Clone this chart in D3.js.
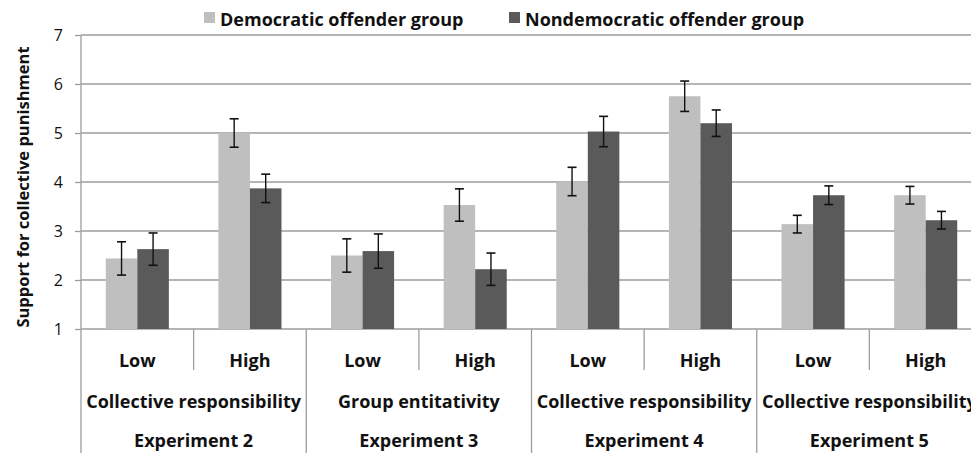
<!DOCTYPE html>
<html>
<head>
<meta charset="utf-8">
<script src="https://cdn.jsdelivr.net/npm/d3@7"></script>
<style>
  html, body { margin: 0; padding: 0; background: #fff; }
  svg { display: block; }
  text { font-family: "Open Sans", Lato, sans-serif; fill: #111; }
</style>
</head>
<body>
<svg id="chart" width="971" height="453"></svg>
<script>
// Level labels on the x axis, one per bar pair
const levels = ["Low", "High", "Low", "High", "Low", "High", "Low", "High"];
// Manipulated factor, one per experiment
const factors = ["Collective responsibility", "Group entitativity", "Collective responsibility", "Collective responsibility"];
const experiments = ["Experiment 2", "Experiment 3", "Experiment 4", "Experiment 5"];
const seriesNames = ["Democratic offender group", "Nondemocratic offender group"];

// Mean support for collective punishment
const democratic    = [2.44, 5.00, 2.50, 3.53, 4.01, 5.75, 3.14, 3.73];
const nondemocratic = [2.63, 3.87, 2.59, 2.22, 5.03, 5.20, 3.73, 3.22];
// Standard errors
const democraticErr    = [0.34, 0.29, 0.34, 0.33, 0.29, 0.31, 0.18, 0.18];
const nondemocraticErr = [0.33, 0.29, 0.35, 0.33, 0.31, 0.27, 0.19, 0.18];

const yTicks = [1, 2, 3, 4, 5, 6, 7];

const colors = ["#bfbfbf", "#5a5a5a"];
const gridColor = "#9d9d9d";

const svg = d3.select("#chart");
const plotLeft = 81, plotRight = 982, plotTop = 35, plotBottom = 329;

const keys = levels.map((d, i) => i);
const x0 = d3.scaleBand().domain(keys).range([plotLeft, plotRight]).paddingInner(0).paddingOuter(0);
const bw = x0.bandwidth();
const barW = bw * 0.28;
const x1 = d3.scaleBand().domain([0, 1]).range([bw / 2 - barW, bw / 2 + barW]).padding(0);
const y = d3.scaleLinear().domain([1, 7]).range([plotBottom, plotTop]);

// Horizontal gridlines
svg.append("g")
  .selectAll("line").data(yTicks).join("line")
  .attr("x1", plotLeft).attr("x2", plotRight)
  .attr("y1", d => y(d)).attr("y2", d => y(d))
  .attr("stroke", gridColor).attr("stroke-width", 1.3);

// Y axis
const yAxis = d3.axisLeft(y).tickValues(yTicks).tickSize(6).tickPadding(12).tickFormat(d3.format("d"));
const ya = svg.append("g").attr("transform", `translate(${plotLeft},0)`).call(yAxis);
ya.select(".domain").remove();
ya.selectAll(".tick line").attr("stroke", gridColor).attr("stroke-width", 1.3);
ya.selectAll(".tick text").attr("font-size", 16).attr("fill", "#111")
  .style("font-family", "'Open Sans', sans-serif");
svg.append("line").attr("x1", plotLeft).attr("x2", plotLeft).attr("y1", plotTop).attr("y2", 453)
  .attr("stroke", gridColor).attr("stroke-width", 1.3);

// Bars
const rows = keys.map(i => [
  { i, s: 0, v: democratic[i], e: democraticErr[i] },
  { i, s: 1, v: nondemocratic[i], e: nondemocraticErr[i] }
]);
const groups = svg.append("g").selectAll("g").data(rows).join("g")
  .attr("transform", d => `translate(${x0(d[0].i)},0)`);
groups.selectAll("rect").data(d => d).join("rect")
  .attr("x", d => x1(d.s)).attr("width", x1.bandwidth())
  .attr("y", d => y(d.v)).attr("height", d => y(1) - y(d.v))
  .attr("fill", d => colors[d.s]);

// Error bars
const cap = 4.5;
const eb = groups.selectAll("g.err").data(d => d).join("g").attr("class", "err")
  .attr("transform", d => `translate(${x1(d.s) + x1.bandwidth() / 2},0)`);
eb.append("line").attr("y1", d => y(d.v + d.e)).attr("y2", d => y(d.v - d.e))
  .attr("stroke", "#111").attr("stroke-width", 1.4);
eb.append("line").attr("x1", -cap).attr("x2", cap).attr("y1", d => y(d.v + d.e)).attr("y2", d => y(d.v + d.e))
  .attr("stroke", "#111").attr("stroke-width", 1.6);
eb.append("line").attr("x1", -cap).attr("x2", cap).attr("y1", d => y(d.v - d.e)).attr("y2", d => y(d.v - d.e))
  .attr("stroke", "#111").attr("stroke-width", 1.6);

// Category separators: short between levels, full height between experiments
const sep = svg.append("g");
keys.slice(1).forEach(i => {
  const full = i % 2 === 0;
  sep.append("line").attr("x1", x0(i)).attr("x2", x0(i))
    .attr("y1", plotBottom).attr("y2", full ? 453 : 370)
    .attr("stroke", gridColor).attr("stroke-width", 1.3);
});

// Level labels
svg.append("g").selectAll("text").data(keys).join("text")
  .attr("x", i => x0(i) + bw / 2).attr("y", 367)
  .attr("text-anchor", "middle").attr("font-size", 18).attr("font-weight", "bold")
  .text(i => levels[i]);

// Factor and experiment labels
const expScale = d3.scaleBand().domain(d3.range(experiments.length)).range([plotLeft, plotRight]);
svg.append("g").selectAll("text").data(factors).join("text")
  .attr("x", (d, i) => expScale(i) + expScale.bandwidth() / 2).attr("y", 408)
  .attr("text-anchor", "middle").attr("font-size", 18).attr("font-weight", "bold")
  .text(d => d);
svg.append("g").selectAll("text").data(experiments).join("text")
  .attr("x", (d, i) => expScale(i) + expScale.bandwidth() / 2).attr("y", 447)
  .attr("text-anchor", "middle").attr("font-size", 18).attr("font-weight", "bold")
  .text(d => d);

// Y axis title
svg.append("text")
  .attr("transform", "translate(29,187) rotate(-90)")
  .attr("text-anchor", "middle").attr("font-size", 16.5).attr("font-weight", "bold")
  .text("Support for collective punishment");

// Legend
const legendX = [204, 509];
const lg = svg.append("g").selectAll("g").data(seriesNames).join("g")
  .attr("transform", (d, i) => `translate(${legendX[i]},12)`);
lg.append("rect").attr("width", 11).attr("height", 11).attr("fill", (d, i) => colors[i]);
lg.append("text").attr("x", 16).attr("y", 14).attr("font-size", 18).attr("font-weight", "bold").text(d => d);
</script>
</body>
</html>
